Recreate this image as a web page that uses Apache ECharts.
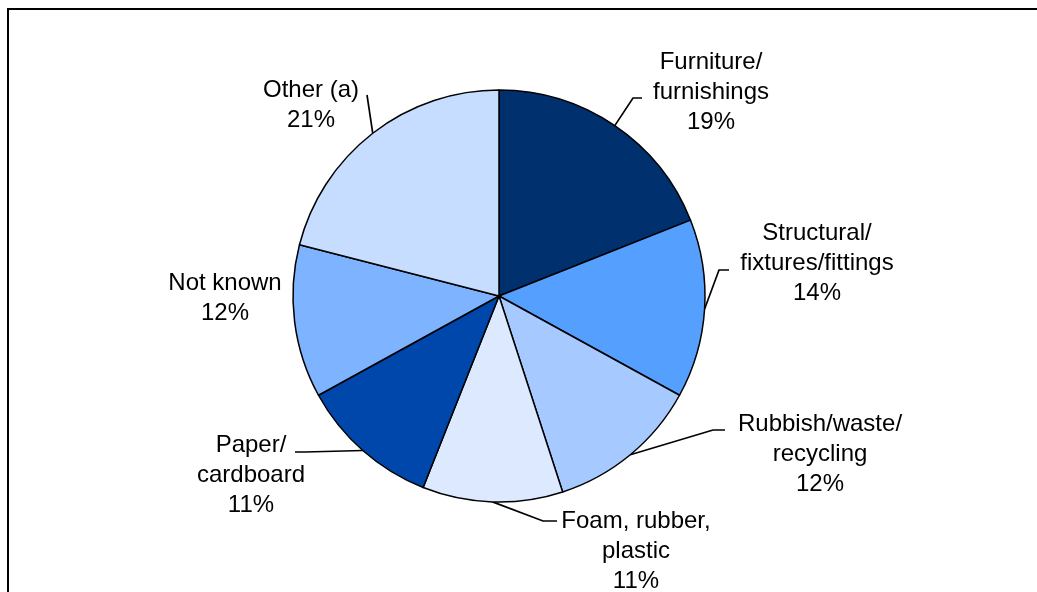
<!DOCTYPE html>
<html>
<head>
<meta charset="utf-8">
<script src="https://cdn.jsdelivr.net/npm/echarts@6/dist/echarts.min.js"></script>
<style>
  html, body { margin: 0; padding: 0; background: #ffffff; }
  #chart { width: 1037px; height: 592px; }
</style>
</head>
<body>
<div id="chart"></div>
<script>
// Share of fires by item first ignited (percent)
const categories = [
  'Furniture/\nfurnishings',
  'Structural/\nfixtures/fittings',
  'Rubbish/waste/\nrecycling',
  'Foam, rubber,\nplastic',
  'Paper/\ncardboard',
  'Not known',
  'Other (a)'
];
const shares = [19, 14, 12, 11, 11, 12, 21];

const palette = ['#00306E', '#559FFF', '#A6CAFF', '#DCE9FF', '#0047AB', '#7DB3FF', '#C6DDFF'];

// Where each label block sits (centre x, top y) and the bend/end of its leader line
const labelPlacement = [
  { x: 711, y: 47,  line: [[633, 98], [642, 98]] },
  { x: 817, y: 218, line: [[719, 270], [729, 270]] },
  { x: 820, y: 409, line: [[713, 430], [725, 430]] },
  { x: 636, y: 506, line: [[543, 521], [557, 521]] },
  { x: 251, y: 430, line: [[305, 452], [295, 452]] },
  { x: 225, y: 268, line: null },
  { x: 311, y: 75,  line: [[367, 95], [367, 95]] }
];

const chart = echarts.init(document.getElementById('chart'), null, { renderer: 'canvas' });

chart.setOption({
  backgroundColor: '#ffffff',
  animation: false,
  color: palette,
  graphic: [{
    type: 'rect',
    shape: { x: 8, y: 9, width: 1060, height: 620 },
    style: { fill: 'none', stroke: '#000000', lineWidth: 2 },
    silent: true
  }],
  series: [{
    type: 'pie',
    center: [499, 296],
    radius: 206,
    startAngle: 90,
    clockwise: true,
    avoidLabelOverlap: false,
    itemStyle: { borderColor: '#000000', borderWidth: 1.5 },
    label: {
      show: true,
      position: 'outside',
      color: '#000000',
      fontFamily: '"Liberation Sans", Arial, sans-serif',
      fontSize: 24,
      lineHeight: 30,
      formatter: p => p.name + '\n' + p.value + '%'
    },
    labelLine: {
      show: true,
      lineStyle: { color: '#000000', width: 1.7 }
    },
    labelLayout: function (params) {
      const place = labelPlacement[params.dataIndex];
      const start = params.labelLinePoints ? params.labelLinePoints[0] : null;
      const out = { x: place.x, y: place.y, align: 'center', verticalAlign: 'top' };
      if (start) {
        out.labelLinePoints = place.line
          ? [start, place.line[0], place.line[1]]
          : [start, start, start];
      }
      return out;
    },
    emphasis: { disabled: true },
    data: categories.map((name, i) => ({ name: name, value: shares[i] }))
  }]
});
</script>
</body>
</html>
